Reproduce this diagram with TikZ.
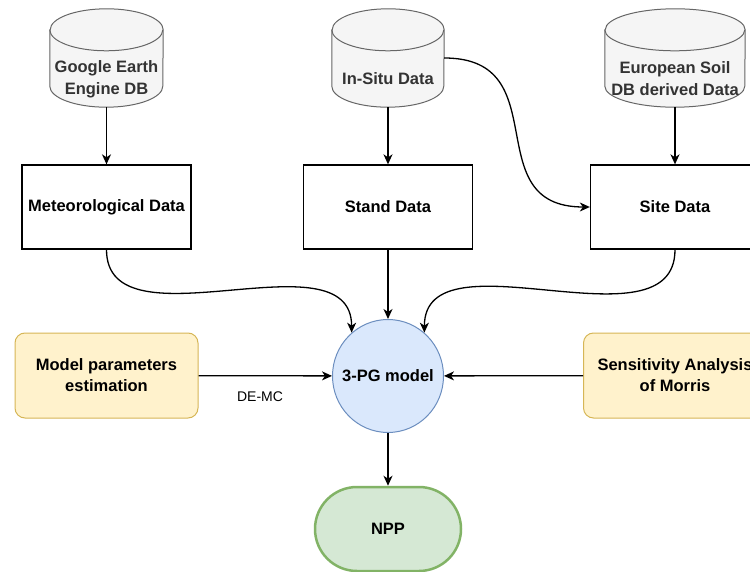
\documentclass[tikz,border=0pt]{standalone}
\usepackage{fontspec}
\setmainfont{Liberation Sans}
\usetikzlibrary{shapes.geometric,arrows.meta,backgrounds}

\definecolor{dbfill}{HTML}{F5F5F5}
\definecolor{dbline}{HTML}{666666}
\definecolor{dbtext}{HTML}{333333}
\definecolor{modfill}{HTML}{DAE8FC}
\definecolor{modline}{HTML}{6C8EBF}
\definecolor{calfill}{HTML}{FFF2CC}
\definecolor{calline}{HTML}{D6B656}
\definecolor{nppfill}{HTML}{D5E8D4}
\definecolor{nppline}{HTML}{82B366}

\tikzset{
  % body of a database cylinder, below its top cap
  db/.style={rectangle, text=dbtext, minimum width=113pt,
    minimum height=56pt, inner sep=0pt, align=center,
    font=\bfseries\fontsize{16.5}{22}\selectfont},
  dbshape/.style={draw=dbline, fill=dbfill, line width=1pt},
  data/.style={rectangle, draw, line width=1.3pt, minimum width=169pt,
    minimum height=84pt, font=\bfseries\fontsize{16.5}{21}\selectfont},
  model/.style={ellipse, draw=modline, fill=modfill, line width=1pt,
    minimum width=111pt, minimum height=113pt, inner sep=0pt,
    font=\bfseries\fontsize{16.5}{21}\selectfont},
  calib/.style={rectangle, rounded corners=10pt, draw=calline, fill=calfill,
    line width=1pt, minimum width=183pt, minimum height=85pt, align=center,
    font=\bfseries\fontsize{16.5}{21}\selectfont},
  npp/.style={rectangle, rounded corners=42pt, draw=nppline, fill=nppfill,
    line width=2.5pt, minimum width=146pt, minimum height=84pt,
    font=\bfseries\fontsize{16.5}{21}\selectfont},
  flow/.style={->, line width=1.3pt}
}

\begin{document}
\begin{tikzpicture}[x=1pt, y=-1pt,
    >={Stealth[length=10pt,width=9pt,inset=3pt]}]
  \useasboundingbox (0,0) rectangle (750,572);

  % sources
  \node[db] (gee) at (106.5,79) {Google Earth\\Engine DB};
  \node[db, minimum width=112pt] (insitu) at (388,79) {In-Situ Data};
  \node[db, minimum width=140pt] (esdb) at (675,79) {European Soil\\DB derived Data};
  \begin{pgfonlayer}{background}
    \foreach \n/\r in {gee/56.5, insitu/56, esdb/70} {
      \draw[dbshape] ([yshift=21pt]\n.north west) -- ([yshift=21pt]\n.south west)
        arc[start angle=180, end angle=360, x radius=\r pt, y radius=21pt]
        -- ([yshift=21pt]\n.north east)
        arc[start angle=0, end angle=180, x radius=\r pt, y radius=21pt] -- cycle;
      \draw[dbshape, fill=none] ([yshift=21pt]\n.north west)
        arc[start angle=180, end angle=360, x radius=\r pt, y radius=21pt];
    }
  \end{pgfonlayer}

  % inputs
  \node[data] (meteo) at (106.5,207) {Meteorological Data};
  \node[data] (stand) at (388,207) {Stand Data};
  \node[data] (site) at (675,207) {Site Data};

  % model, calibration and output
  \node[model] (pg) at (388,376) {\makebox[0pt]{3-PG model}};
  \node[calib] (est) at (106.5,375.5) {Model parameters\\estimation};
  \node[calib] (morris) at (675,375.5) {Sensitivity Analysis\\of Morris};
  \node[npp] (npp) at (388,529) {NPP};
  \node[font=\fontsize{14}{16}\selectfont] (demc) at (260,397) {DE-MC};

  \begin{scope}[flow]
    \draw (gee) -- (meteo);
    \draw (insitu) -- (stand);
    \draw (esdb) -- (site);
    \draw ([yshift=21pt]insitu.east) to[out=0, in=180, looseness=1.4] (site.west);
    \draw (meteo.south) to[out=-90, in=90] (pg.130);
    \draw (stand) -- (pg);
    \draw (site.south) to[out=-90, in=90] (pg.50);
    \draw (est) -- (pg);
    \draw (morris) -- (pg);
    \draw (pg) -- (npp);
  \end{scope}
\end{tikzpicture}
\end{document}
